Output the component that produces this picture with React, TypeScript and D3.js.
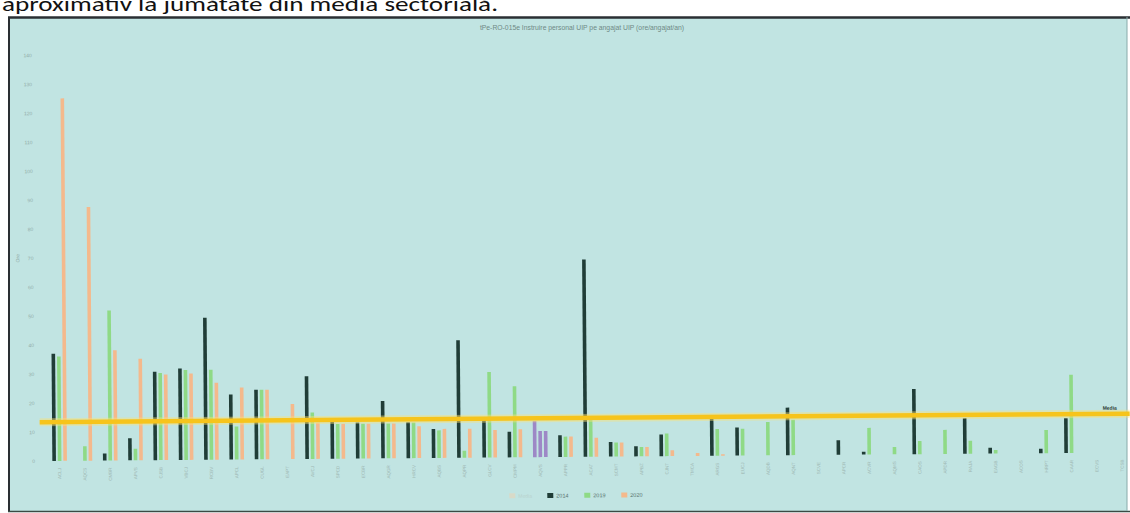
import * as d3 from 'd3';

const categories = [
  'ACLJ', 'AQCS', 'CMBR', 'APVS', 'CJSB', 'VBCJ', 'RCBV', 'APCL', 'CUGL', 'EAPT',
  'AVCJ', 'SPCD', 'ECBR', 'AQGR', 'HRCV', 'AQBS', 'AQPR', 'GLCV', 'CMPM', 'AQVS',
  'APPR', 'ACAT', 'SCMT', 'APBZ', 'CJNT', 'TMCA', 'ARGS', 'EUCJ', 'AQDB', 'AQNT',
  'SCVE', 'APCR', 'ACVR', 'AQMS', 'CAOS', 'APDR', 'RAJA', 'EAGB', 'ACOS', 'HRPT',
  'CAAR', 'ECVS', 'TCSB'
];

const v2014 = [
  37, 0, 2.4, 7.6, 30.5, 31.5, 49, 22.4, 24, 0,
  28.5, 12.8, 12.4, 19.8, 12.4, 10, 40.5, 13, 8.8, 12.5,
  7.5, 68, 5, 3.5, 7.5, 0, 13.3, 9.7, 0, 16.4,
  0, 5, 1, 0, 22.5, 0, 12.3, 2, 0, 1.5,
  12, 0, 0
];
const v2019 = [
  36, 5, 51.7, 4, 30, 31, 31, 11.4, 24, 0,
  16, 12, 12, 12, 12.3, 9.5, 2.4, 29.5, 24.5, 9,
  7, 13.7, 4.8, 3.2, 7.8, 0, 9.2, 9.2, 11.5, 12.2,
  0, 0, 9.2, 2.5, 4.5, 8.3, 4.5, 1.2, 0, 8,
  27, 0, 0
];
const v2020 = [
  125, 87.5, 38, 35, 29.5, 29.8, 26.5, 24.8, 24, 19,
  12.5, 12, 12, 12, 11, 10, 10, 9.5, 9.7, 9,
  7, 6.5, 4.8, 3.2, 2, 1, 0.5, 0, 0, 0,
  0, 0, 0, 0, 0, 0, 0, 0, 0, 0,
  0, 0, 0
];
const highlighted = 'AQVS';
const mediaValue = 13.4;
const yTicks = [0, 10, 20, 30, 40, 50, 60, 70, 80, 90, 100, 110, 120, 130, 140];
const seriesNames = ['2014', '2019', '2020'];

const COLORS = ['#203d37', '#8fda86', '#f4b98c'];
const PURPLE = '#9d88c6';

export default function App() {
  document.body.style.margin = '0';
  const width = 1130;
  const height = 513;
  const left = 47;
  const bottom = 461;
  const top = 55;

  const x = d3.scaleBand().domain(categories).range([left, left + categories.length * 25.3]).padding(0);
  const y = d3.scaleLinear().domain([0, 140]).range([bottom, top]);
  const offsets = d3.scaleLinear().domain([0, 2]).range([-5.5, 5.5]);
  const series = [v2014, v2019, v2020];
  const barW = 3.6;

  return (
    <svg width={width} height={height} style={{ display: 'block' }} fontFamily="Liberation Sans, Arial, sans-serif">
      <rect x={0} y={0} width={width} height={height} fill="#ffffff" />
      <text x={2} y={11} fontFamily="Carlito, Open Sans, sans-serif" fontSize={21} fill="#111" textLength={496} lengthAdjust="spacingAndGlyphs">
        aproximativ la jumătate din media sectorială.
      </text>
      {/* chart frame */}
      <rect x={8} y={17} width={1119} height={494} fill="#c1e4e2" />
      <line x1={8} x2={1130} y1={17.5} y2={17.5} stroke="#2a2f33" strokeWidth={2.5} />
      <line x1={9} x2={9} y1={17} y2={511} stroke="#2a2f33" strokeWidth={2} />
      <line x1={8} x2={1130} y1={511.5} y2={511.5} stroke="#3b4a44" strokeWidth={1.5} />
      <line x1={1127} x2={1127} y1={17} y2={511} stroke="#8aa" strokeWidth={1} />

      <text x={582} y={30} textAnchor="middle" fontSize={6.8} fill="#6f8a86">
        tPe-RO-015e Instruire personal UIP pe angajat UIP (ore/angajat/an)
      </text>

      <g transform={`rotate(-0.45, ${left}, ${bottom})`}>
        {yTicks.map(t => (
          <text key={t} x={35} y={y(t) + 2} textAnchor="end" fontSize={5} fill="#93aeaa">{t}</text>
        ))}
        <text transform={`translate(21, ${y(70)}) rotate(-90)`} textAnchor="middle" fontSize={5} fill="#93aeaa">Ore</text>

        {categories.map((c, i) => {
          const cx = (x(c) || 0) + x.bandwidth() / 2;
          return (
            <g key={c}>
              {series.map((s, k) => {
                const v = s[i];
                if (!v) return null;
                return (
                  <rect
                    key={k}
                    x={cx + offsets(k) - barW / 2}
                    y={y(v)}
                    width={barW}
                    height={y(0) - y(v)}
                    fill={c === highlighted ? PURPLE : COLORS[k]}
                  />
                );
              })}
              <text
                transform={`translate(${cx + 1.5}, ${bottom + 7}) rotate(-90)`}
                textAnchor="end"
                fontSize={4.5}
                fill="#9fb8b4"
              >
                {c}
              </text>
            </g>
          );
        })}

        <line x1={40} x2={1130} y1={y(mediaValue)} y2={y(mediaValue)} stroke="#f9e27a" strokeWidth={8} opacity={0.45} />
        <line x1={40} x2={1130} y1={y(mediaValue)} y2={y(mediaValue)} stroke="#f6c41c" strokeWidth={4.5} />
        <text x={1103} y={y(mediaValue) - 4} fontSize={5} fontWeight="bold" fill="#2c3a30">Media</text>

        {/* legend */}
        <g transform="translate(0, 500)">
          <rect x={509} y={-3} width={6} height={5} fill="#e8d4b8" opacity={0.6} />
          <text x={518} y={1.5} fontSize={5} fill="#b5c8c0" opacity={0.6}>Media</text>
          {seriesNames.map((n, k) => (
            <g key={n} transform={`translate(${547 + k * 37}, 0)`}>
              <rect x={0} y={-3} width={6} height={5} fill={COLORS[k]} />
              <text x={9} y={1.5} fontSize={5.5} fill="#55706a">{n}</text>
            </g>
          ))}
        </g>
      </g>
    </svg>
  );
}
